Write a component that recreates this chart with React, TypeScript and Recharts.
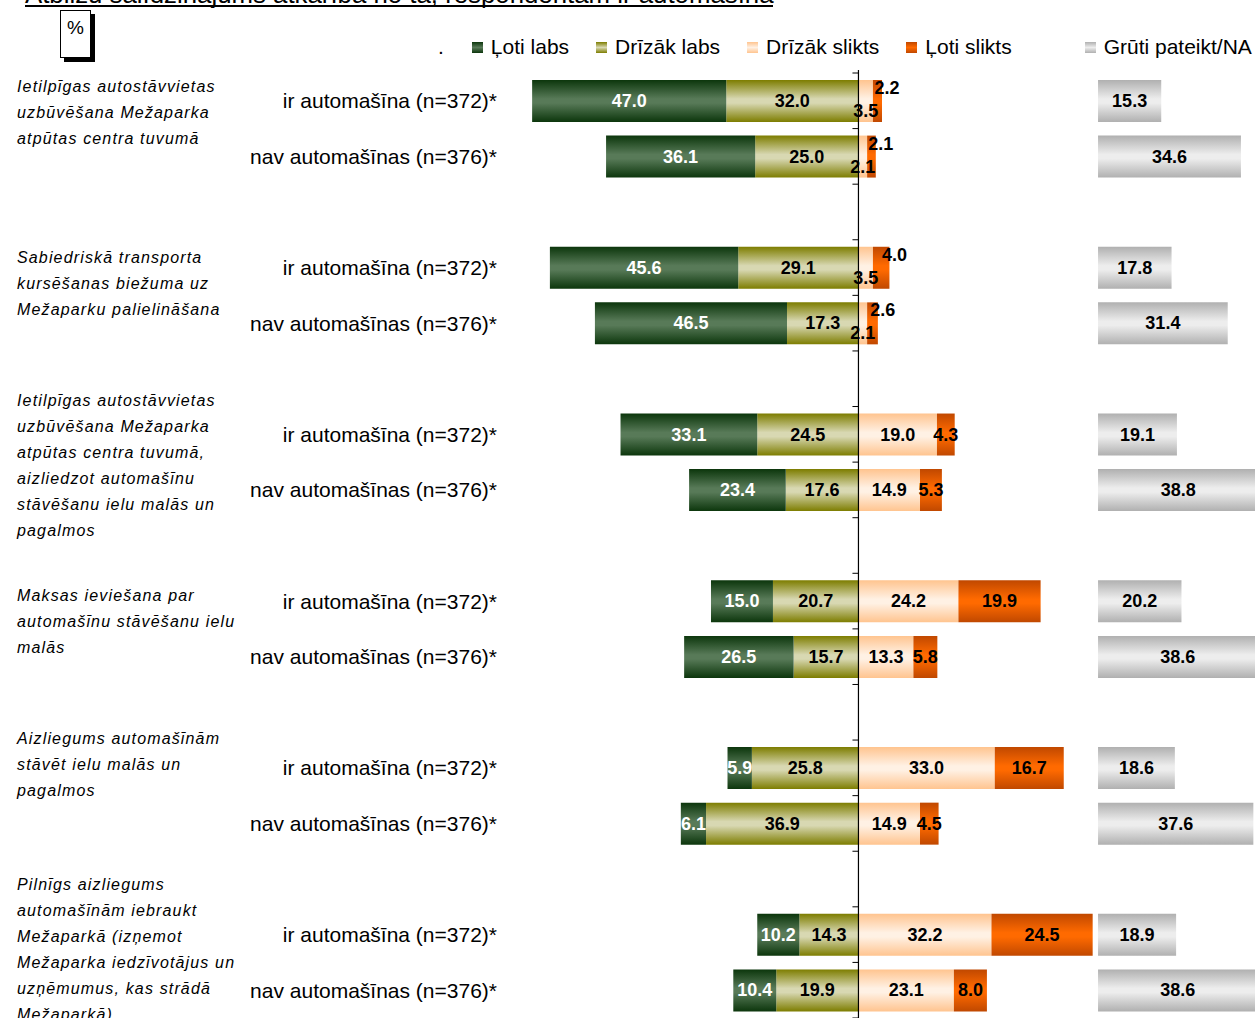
import { BarChart, Bar, XAxis, YAxis, LabelList, ReferenceLine } from 'recharts';

const FONT = '"Liberation Sans", Arial, sans-serif';

const TITLE = 'Atbilžu salīdzinājums atkarībā no tā, respondentam ir automašīna';

const GROUP_LABELS = [
  ['Ietilpīgas autostāvvietas', 'uzbūvēšana Mežaparka', 'atpūtas centra tuvumā'],
  ['Sabiedriskā transporta', 'kursēšanas biežuma uz', 'Mežaparku palielināšana'],
  [
    'Ietilpīgas autostāvvietas',
    'uzbūvēšana Mežaparka',
    'atpūtas centra tuvumā,',
    'aizliedzot automašīnu',
    'stāvēšanu ielu malās un',
    'pagalmos',
  ],
  ['Maksas ieviešana par', 'automašīnu stāvēšanu ielu', 'malās'],
  ['Aizliegums automašīnām', 'stāvēt ielu malās un', 'pagalmos'],
  [
    'Pilnīgs aizliegums',
    'automašīnām iebraukt',
    'Mežaparkā (izņemot',
    'Mežaparka iedzīvotājus un',
    'uzņēmumus, kas strādā',
    'Mežaparkā)',
  ],
];

const ROW_LABELS = ['ir automašīna (n=372)*', 'nav automašīnas (n=376)*'];

// one value per row: group 1 ir, group 1 nav, group 2 ir, ...
const lotiLabs = [47.0, 36.1, 45.6, 46.5, 33.1, 23.4, 15.0, 26.5, 5.9, 6.1, 10.2, 10.4];
const drizakLabs = [32.0, 25.0, 29.1, 17.3, 24.5, 17.6, 20.7, 15.7, 25.8, 36.9, 14.3, 19.9];
const drizakSlikts = [3.5, 2.1, 3.5, 2.1, 19.0, 14.9, 24.2, 13.3, 33.0, 14.9, 32.2, 23.1];
const lotiSlikts = [2.2, 2.1, 4.0, 2.6, 4.3, 5.3, 19.9, 5.8, 16.7, 4.5, 24.5, 8.0];
const gruti = [15.3, 34.6, 17.8, 31.4, 19.1, 38.8, 20.2, 38.6, 18.6, 37.6, 18.9, 38.6];

// where the "Grūti pateikt/NA" column starts on the value axis
const NA_START = 58;

// vertical offset of the first line of each group caption from its first row
const GROUP_LABEL_SHIFT = [-14, -10, -34, -6, -29, -50];

type Row = {
  key: string;
  group?: number;
  sub?: number;
  ll?: number;
  dl?: number;
  ds?: number;
  ls?: number;
  na?: number;
  llNeg?: number;
  dlNeg?: number;
};

const data: Row[] = [];
GROUP_LABELS.forEach((_, g) => {
  [0, 1].forEach((sub) => {
    const i = g * 2 + sub;
    data.push({
      key: `g${g}-${sub}`,
      group: g,
      sub,
      ll: lotiLabs[i],
      dl: drizakLabs[i],
      ds: drizakSlikts[i],
      ls: lotiSlikts[i],
      na: gruti[i],
      llNeg: -lotiLabs[i],
      dlNeg: -drizakLabs[i],
    });
  });
  if (g < GROUP_LABELS.length - 1) data.push({ key: `gap${g}` });
});

// rows that actually carry bars (labels are indexed over these)
const filled = data.filter((d) => d.group != null);

const GRADIENTS = [
  { id: 'gLL', edge: '#0c360c', mid: '#587a58' },
  { id: 'gDL', edge: '#7d7d00', mid: '#d8d8b2' },
  { id: 'gDS', edge: '#ffc48f', mid: '#fff1e4' },
  { id: 'gLS', edge: '#c04800', mid: '#ff6a00' },
  { id: 'gNA', edge: '#b0b0b0', mid: '#ededed' },
];

const LEGEND = [
  { name: 'Ļoti labs', edge: '#0c360c', mid: '#587a58' },
  { name: 'Drīzāk labs', edge: '#7d7d00', mid: '#d8d8b2' },
  { name: 'Drīzāk slikts', edge: '#ffc48f', mid: '#fff1e4' },
  { name: 'Ļoti slikts', edge: '#c04800', mid: '#ff6a00' },
  { name: 'Grūti pateikt/NA', edge: '#b0b0b0', mid: '#ededed' },
];

function boxOf(props: any) {
  const vb = props.viewBox || {};
  return {
    x: props.x ?? vb.x,
    y: props.y ?? vb.y,
    width: props.width ?? vb.width,
    height: props.height ?? vb.height,
  };
}

function rowFor(index: number, kind: string, value: number): Row {
  const byFilled = filled[index];
  if (byFilled && (byFilled as any)[kind] === value) return byFilled;
  const byData = data[index];
  if (byData && (byData as any)[kind] === value) return byData;
  return byFilled || {};
}

function makeLabel(kind: 'll' | 'dl' | 'ds' | 'ls' | 'na') {
  return (props: any) => {
    const { value, index } = props;
    if (value == null || Number.isNaN(value)) return null;
    const { x, y, width, height } = boxOf(props);
    const row = rowFor(index, kind, Number(value));
    let cx = x + width / 2;
    let cy = y + height / 2;
    // Excel-style placement of the very small right-hand labels
    if (kind === 'ds' && Number(value) < 5) {
      cy += 10;
    }
    if (kind === 'ls' && row.ds != null && row.ds < 5) {
      cx = x + width + 5;
      cy -= 13;
    }
    return (
      <text
        x={cx}
        y={cy}
        textAnchor="middle"
        dominantBaseline="central"
        fontFamily={FONT}
        fontSize={18}
        fontWeight="bold"
        fill={kind === 'll' ? '#ffffff' : '#000000'}
      >
        {Math.abs(Number(value)).toFixed(1)}
      </text>
    );
  };
}

const RowTick = (props: any) => {
  const { y, payload } = props;
  const row = data.find((d) => d.key === payload.value);
  if (!row || row.group == null) return null;
  return (
    <g>
      <text
        x={497}
        y={y}
        textAnchor="end"
        dominantBaseline="central"
        fontFamily={FONT}
        fontSize={21}
        fill="#000"
      >
        {ROW_LABELS[row.sub!]}
      </text>
      {row.sub === 0 &&
        GROUP_LABELS[row.group].map((line, i) => (
          <text
            key={i}
            x={17}
            y={y + GROUP_LABEL_SHIFT[row.group!] + i * 26}
            dominantBaseline="central"
            fontFamily={FONT}
            fontSize={16}
            fontStyle="italic"
            letterSpacing={1.15}
            fill="#000"
          >
            {line}
          </text>
        ))}
    </g>
  );
};

const CenterAxis = (props: any) => {
  const { x1, y1, y2 } = props;
  const top = Math.min(y1, y2);
  const bottom = Math.max(y1, y2);
  const step = (bottom - top) / data.length;
  const ticks = [];
  for (let i = 0; i <= data.length; i++) {
    const ty = top + i * step;
    ticks.push(<line key={i} x1={x1 - 6} x2={x1} y1={ty} y2={ty} stroke="#000" strokeWidth={1} />);
  }
  return (
    <g>
      <line x1={x1} x2={x1} y1={top - 3} y2={bottom} stroke="#000" strokeWidth={1.2} />
      {ticks}
    </g>
  );
};

export default function App() {
  return (
    <div
      style={{
        position: 'absolute',
        left: 0,
        top: 0,
        width: 1255,
        height: 1018,
        overflow: 'hidden',
        background: '#fff',
        fontFamily: FONT,
      }}
    >
      <div
        style={{
          position: 'absolute',
          left: 25,
          top: -19,
          fontSize: 25.8,
          lineHeight: '26px',
          whiteSpace: 'nowrap',
        }}
      >
        {TITLE}
      </div>
      <div style={{ position: 'absolute', left: 25, top: 5, width: 748, height: 2, background: '#000' }} />

      <div
        style={{
          position: 'absolute',
          left: 60,
          top: 10,
          width: 29,
          height: 46,
          border: '1px solid #000',
          background: '#fff',
          boxShadow: '4px 4px 0 #000',
          textAlign: 'center',
          fontSize: 19,
          lineHeight: '34px',
        }}
      >
        %
      </div>

      <div
        style={{
          position: 'absolute',
          left: 438,
          top: 34,
          display: 'flex',
          alignItems: 'center',
          fontSize: 21,
          lineHeight: '26px',
          whiteSpace: 'nowrap',
        }}
      >
        <span style={{ marginRight: 28 }}>.</span>
        {LEGEND.map((l, i) => (
          <span
            key={l.name}
            style={{
              display: 'flex',
              alignItems: 'center',
              marginRight: i === 3 ? 73 : 27,
            }}
          >
            <span
              style={{
                display: 'inline-block',
                width: 11,
                height: 11,
                marginRight: 8,
                background: `linear-gradient(${l.edge}, ${l.mid}, ${l.edge})`,
              }}
            />
            {l.name}
          </span>
        ))}
      </div>

      <div style={{ position: 'absolute', left: 0, top: 0 }}>
        <BarChart
          width={1255}
          height={1018}
          data={data}
          layout="vertical"
          stackOffset="sign"
          margin={{ top: 73, right: 0, bottom: 0, left: 0 }}
        >
          <defs>
            {GRADIENTS.map((g) => (
              <linearGradient key={g.id} id={g.id} x1="0" y1="0" x2="0" y2="1">
                <stop offset="0%" stopColor={g.edge} />
                <stop offset="45%" stopColor={g.mid} />
                <stop offset="55%" stopColor={g.mid} />
                <stop offset="100%" stopColor={g.edge} />
              </linearGradient>
            ))}
          </defs>
          <XAxis type="number" domain={[-80, 96]} allowDataOverflow hide />
          <XAxis xAxisId="na" type="number" domain={[-80, 96]} allowDataOverflow hide />
          <YAxis
            type="category"
            dataKey="key"
            width={528}
            interval={0}
            tickLine={false}
            axisLine={false}
            tick={<RowTick />}
          />
          <YAxis yAxisId="na" type="category" dataKey="key" hide />

          <Bar dataKey="dlNeg" stackId="s" fill="url(#gDL)" barSize={42} isAnimationActive={false}>
            <LabelList dataKey="dl" content={makeLabel('dl')} />
          </Bar>
          <Bar dataKey="llNeg" stackId="s" fill="url(#gLL)" barSize={42} isAnimationActive={false}>
            <LabelList dataKey="ll" content={makeLabel('ll')} />
          </Bar>
          <Bar dataKey="ds" stackId="s" fill="url(#gDS)" barSize={42} isAnimationActive={false}>
            <LabelList dataKey="ds" content={makeLabel('ds')} />
          </Bar>
          <Bar dataKey="ls" stackId="s" fill="url(#gLS)" barSize={42} isAnimationActive={false}>
            <LabelList dataKey="ls" content={makeLabel('ls')} />
          </Bar>
          <Bar
            dataKey={(d: Row) => (d.na == null ? null : [NA_START, NA_START + d.na])}
            xAxisId="na"
            yAxisId="na"
            fill="url(#gNA)"
            barSize={42}
            isAnimationActive={false}
          >
            <LabelList dataKey="na" content={makeLabel('na')} />
          </Bar>
          <ReferenceLine x={0} stroke="#000" shape={<CenterAxis />} />
        </BarChart>
      </div>
    </div>
  );
}
